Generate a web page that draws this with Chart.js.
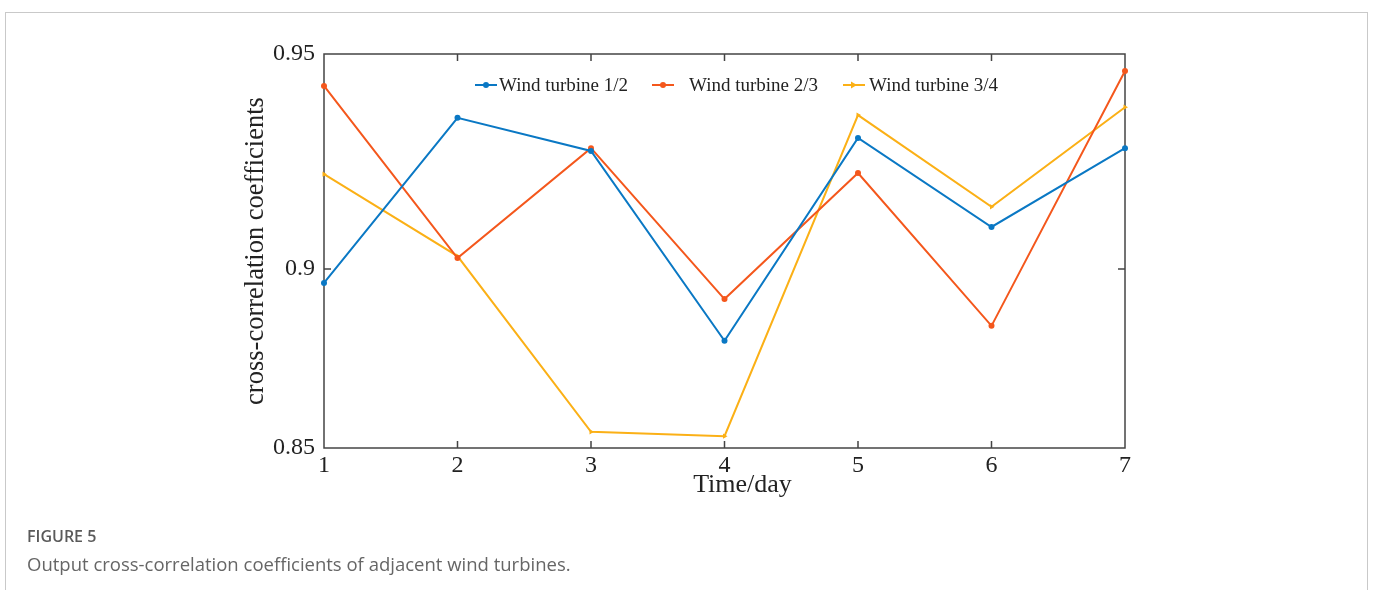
<!DOCTYPE html>
<html>
<head>
<meta charset="utf-8">
<script src="https://cdn.jsdelivr.net/npm/chart.js@4"></script>
<style>
  body { margin: 0; background: #fff; }
  #wrap { position: relative; width: 1375px; height: 590px; overflow: hidden; }
  #box { position: absolute; left: 5px; top: 12px; width: 1361px; height: 620px; border: 1px solid #c9c9c9; }
  #myChart { position: absolute; left: 0; top: 0; }
  .cap1 { position: absolute; left: 27px; top: 525px; font: 600 16px "Open Sans", sans-serif; color: #5a5a5a; }
  .cap2 { position: absolute; left: 27px; top: 551px; font: 18.5px "Open Sans", sans-serif; color: #666; }
</style>
</head>
<body>
<div id="wrap">
  <div id="box"></div>
  <canvas id="myChart" width="1375" height="590"></canvas>
  <div class="cap1">FIGURE 5</div>
  <div class="cap2">Output cross-correlation coefficients of adjacent wind turbines.</div>
</div>
<script>
const days = ["1", "2", "3", "4", "5", "6", "7"];
const turbine12 = [0.8919, 0.9338, 0.9254, 0.8772, 0.9287, 0.9061, 0.9261];
const turbine23 = [0.9419, 0.8982, 0.9261, 0.8878, 0.9198, 0.8810, 0.9457];
const turbine34 = [0.9195, 0.8987, 0.8541, 0.8530, 0.9345, 0.9112, 0.9365];
const seriesNames = ["Wind turbine 1/2", "Wind turbine 2/3", "Wind turbine 3/4"];
// the middle tick sits lower than halfway in the original figure
const yTickValues = [0.85, 0.8954, 0.95];
const yTickLabels = ["0.85", "0.9", "0.95"];
const xTitle = "Time/day";

const serif = "'Liberation Serif', 'Times New Roman', serif";

/* frame, inward ticks, x title and legend inside the plot */
const framePlugin = {
  id: "frame",
  beforeDatasetsDraw(chart) {
    const { ctx, chartArea: a, scales } = chart;
    ctx.save();
    ctx.strokeStyle = "#444";
    ctx.lineWidth = 1.5;
    ctx.strokeRect(a.left, a.top, a.right - a.left, a.bottom - a.top);
    ctx.beginPath();
    for (let i = 1; i < days.length - 1; i++) {
      const x = scales.x.getPixelForValue(i);
      ctx.moveTo(x, a.top); ctx.lineTo(x, a.top + 7);
      ctx.moveTo(x, a.bottom); ctx.lineTo(x, a.bottom - 7);
    }
    const y = scales.y.getPixelForValue(yTickValues[1]);
    ctx.moveTo(a.left, y); ctx.lineTo(a.left + 7, y);
    ctx.moveTo(a.right, y); ctx.lineTo(a.right - 7, y);
    ctx.stroke();
    // x title, a little right of centre as in the figure
    ctx.font = "26px " + serif;
    ctx.fillStyle = "#222";
    ctx.textAlign = "center";
    ctx.textBaseline = "middle";
    ctx.fillText(xTitle, (a.left + a.right) / 2 + 18, a.bottom + 37);
    ctx.restore();
  },
  afterDatasetsDraw(chart) {
    const { ctx } = chart;
    const startX = [475, 652, 843];
    const textGap = [2, 15, 4];
    const ly = 85;
    ctx.save();
    ctx.font = "19px " + serif;
    ctx.textBaseline = "middle";
    chart.data.datasets.forEach((ds, i) => {
      const x0 = startX[i];
      ctx.strokeStyle = ds.borderColor;
      ctx.lineWidth = 2;
      ctx.beginPath();
      ctx.moveTo(x0, ly); ctx.lineTo(x0 + 22, ly);
      ctx.stroke();
      ctx.fillStyle = ds.borderColor;
      ctx.beginPath();
      if (i === 2) {
        ctx.moveTo(x0 + 14, ly); ctx.lineTo(x0 + 8, ly - 3.5); ctx.lineTo(x0 + 8, ly + 3.5);
      } else {
        ctx.arc(x0 + 11, ly, 3, 0, Math.PI * 2);
      }
      ctx.fill();
      ctx.fillStyle = "#222";
      ctx.fillText(seriesNames[i], x0 + 22 + textGap[i], ly + 1);
    });
    ctx.restore();
  }
};

const ctx = document.getElementById("myChart");
const myChart = new Chart(ctx, {
  type: "line",
  data: {
    labels: days,
    datasets: [
      {
        label: seriesNames[0],
        data: turbine12,
        borderColor: "#0a78c4",
        backgroundColor: "#0a78c4",
        pointStyle: "circle",
      },
      {
        label: seriesNames[1],
        data: turbine23,
        borderColor: "#f4571c",
        backgroundColor: "#f4571c",
        pointStyle: "circle",
      },
      {
        label: seriesNames[2],
        data: turbine34,
        borderColor: "#fbb016",
        backgroundColor: "#fbb016",
        pointStyle: "triangle",
        pointRotation: 90,
      },
    ],
  },
  options: {
    responsive: false,
    animation: false,
    devicePixelRatio: 1,
    layout: { padding: { left: 240, right: 250, top: 54, bottom: 92 } },
    elements: {
      line: { borderWidth: 2, tension: 0 },
      point: { radius: 3, hoverRadius: 3, borderWidth: 0 },
    },
    datasets: { line: { clip: false } },
    plugins: { legend: { display: false }, tooltip: { enabled: false } },
    scales: {
      x: {
        grid: { display: false, drawTicks: false },
        border: { display: false },
        ticks: { font: { family: serif, size: 24 }, color: "#222", padding: 3, maxRotation: 0 },
        afterFit(scale) { scale.height = 50; },
      },
      y: {
        min: 0.85,
        max: 0.95,
        grid: { display: false, drawTicks: false },
        border: { display: false },
        afterBuildTicks(scale) { scale.ticks = yTickValues.map(v => ({ value: v })); },
        ticks: {
          font: { family: serif, size: 24 },
          color: "#222",
          padding: 9,
          callback: (v, i) => yTickLabels[i],
        },
        title: { display: true, text: "cross-correlation coefficients", font: { family: serif, size: 26.5 }, color: "#222", padding: 0 },
        afterFit(scale) { scale.width = 84; },
      },
    },
  },
  plugins: [framePlugin],
});
myChart;
</script>
</body>
</html>
